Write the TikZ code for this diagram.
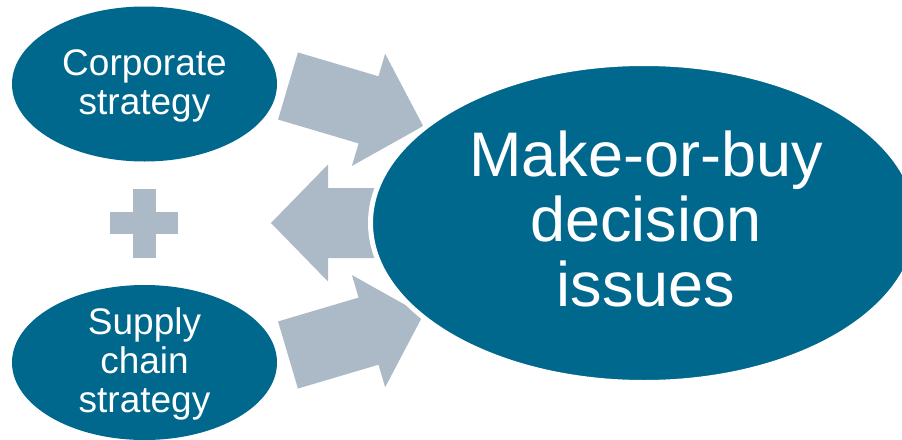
\documentclass[tikz,border=0pt]{standalone}
\usepackage{fontspec}
\setmainfont{Liberation Sans}
\usetikzlibrary{shapes.geometric}
\definecolor{mbblue}{RGB}{0,103,141}
\definecolor{mbgrey}{RGB}{172,185,199}
\tikzset{
  smallell/.style={ellipse, fill=mbblue, inner sep=0pt, minimum width=265pt, minimum height=155pt,
    text=white, align=center, font=\fontsize{37}{39}\selectfont},
  bigell/.style={ellipse, fill=mbblue, draw=white, line width=5pt, inner sep=0pt,
    minimum width=547pt, minimum height=319pt},
  bigtext/.style={text=white, align=center, inner sep=0pt, font=\fontsize{63}{65}\selectfont},
  blockarrow/.style={fill=mbgrey}
}
\begin{document}
\begin{tikzpicture}[x=1pt,y=-1pt]
\useasboundingbox (0,0) rectangle (902,439);
% block arrows
\begin{scope}[shift={(288,86)},rotate=-16.5]
  \fill[blockarrow] (0,-35) -- (84,-35) -- (84,-58.5) -- (141,0) -- (84,58.5) -- (84,35) -- (0,35) -- cycle;
\end{scope}
\begin{scope}[shift={(288,355)},rotate=16.5]
  \fill[blockarrow] (0,-35) -- (84,-35) -- (84,-58.5) -- (141,0) -- (84,58.5) -- (84,35) -- (0,35) -- cycle;
\end{scope}
\fill[blockarrow] (271,223) -- (328,164.5) -- (328,188) -- (410,188) -- (410,258) -- (328,258) -- (328,281.5) -- cycle;
% plus sign
\fill[mbgrey] (110,212) rectangle (178,234);
\fill[mbgrey] (133,189) rectangle (156,258);
% ellipses
\node[smallell] (corp) at (144.5,84) {};
\node[smallell] (supp) at (144.5,362.5) {};
\node[bigell] (mob) at (644,223) {};
\node[text=white, align=center, inner sep=0pt, font=\fontsize{37}{39}\selectfont] (corpt) at (144.5,86) {Corporate\\strategy};
\node[text=white, align=center, inner sep=0pt, font=\fontsize{37}{39}\selectfont] (suppt) at (144.5,364) {Supply\\chain\\strategy};
\node[bigtext] (mobt) at (646,219) {Make-or-buy\\decision\\issues};
\end{tikzpicture}
\end{document}
